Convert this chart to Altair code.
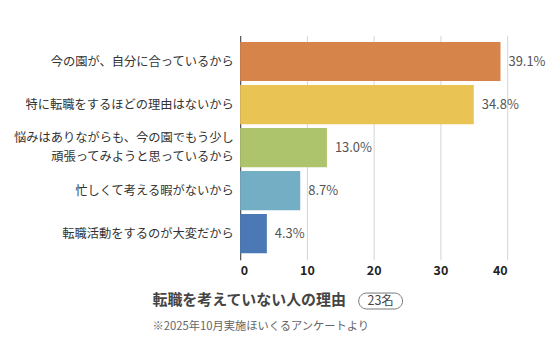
import altair as alt
import pandas as pd

categories = [
    "今の園が、自分に合っているから",
    "特に転職をするほどの理由はないから",
    "悩みはありながらも、今の園でもう少し\n頑張ってみようと思っているから",
    "忙しくて考える暇がないから",
    "転職活動をするのが大変だから",
]
values = [39, 35, 13, 9, 4]
labels = ["39.1%", "34.8%", "13.0%", "8.7%", "4.3%"]
colors = ["#D6844A", "#E9C353", "#AEC46C", "#74AEC5", "#4A79B5"]
x_ticks = [0, 10, 20, 30, 40]
title_text = "転職を考えていない人の理由"
count_text = "23名"
source_text = "※2025年10月実施ほいくるアンケートより"

FONT = "Noto Sans CJK JP"
W, H = 268, 225

df = pd.DataFrame({"cat": categories, "val": values, "lab": labels})

y_enc = alt.Y(
    "cat:N",
    sort=categories,
    title=None,
    scale=alt.Scale(paddingInner=0.09, paddingOuter=0.15),
    axis=alt.Axis(
        labelExpr="split(datum.label, '\\n')",
        labelFont=FONT,
        labelFontSize=12.3,
        labelColor="#333333",
        labelPadding=7,
        labelLineHeight=19,
        labelLimit=300,
        labelOffset={"condition": {"test": "indexof(datum.value, '\\n') >= 0", "value": -9.5}, "value": 0},
        ticks=False,
        domain=True,
        domainColor="#555555",
        domainWidth=1.2,
        grid=False,
    ),
)

x_enc = alt.X(
    "val:Q",
    title=None,
    scale=alt.Scale(domain=[0, 40], nice=False),
    axis=alt.Axis(
        values=x_ticks,
        labelFont=FONT,
        labelFontSize=12.5,
        labelFontWeight="bold",
        labelColor="#222222",
        labelPadding=5,
        ticks=False,
        domain=False,
        grid=True,
        gridColor="#D5D5D5",
        gridWidth=1,
    ),
)

bars = alt.Chart(df).mark_bar(clip=False).encode(
    x=x_enc,
    y=y_enc,
    color=alt.Color("cat:N", scale=alt.Scale(domain=categories, range=colors), legend=None),
)

text = alt.Chart(df).mark_text(
    align="left", baseline="middle", dx=8, font=FONT, fontSize=13, color="#555555", clip=False
).encode(
    x="val:Q",
    y=alt.Y("cat:N", sort=categories),
    text="lab:N",
)

title_df = pd.DataFrame({"t": [title_text]})
title_mark = alt.Chart(title_df).mark_text(
    align="left", baseline="middle", font=FONT, fontSize=15, fontWeight="bold", color="#444444"
).encode(text="t:N", x=alt.value(-88), y=alt.value(265))

pill_df = pd.DataFrame({"t": [count_text]})
pill = alt.Chart(pill_df).mark_rect(
    cornerRadius=8, fill="white", stroke="#777777", strokeWidth=1
).encode(x=alt.value(119), x2=alt.value(163), y=alt.value(258.5), y2=alt.value(274.5))
pill_text = alt.Chart(pill_df).mark_text(
    align="center", baseline="middle", font=FONT, fontSize=12.5, color="#444444"
).encode(text="t:N", x=alt.value(141), y=alt.value(266.5))

src_df = pd.DataFrame({"t": [source_text]})
src = alt.Chart(src_df).mark_text(
    align="left", baseline="middle", font=FONT, fontSize=11.3, color="#666666"
).encode(text="t:N", x=alt.value(-88), y=alt.value(293))

chart = alt.layer(bars, text, title_mark, pill, pill_text, src).properties(
    width=W,
    height=H,
    autosize=alt.AutoSizeParams(type="none"),
    padding={"left": 233, "top": 27, "right": 45, "bottom": 75},
    background="white",
).configure_view(stroke=None)

chart.save("out.html", embed_options={"renderer": "svg", "actions": False})
